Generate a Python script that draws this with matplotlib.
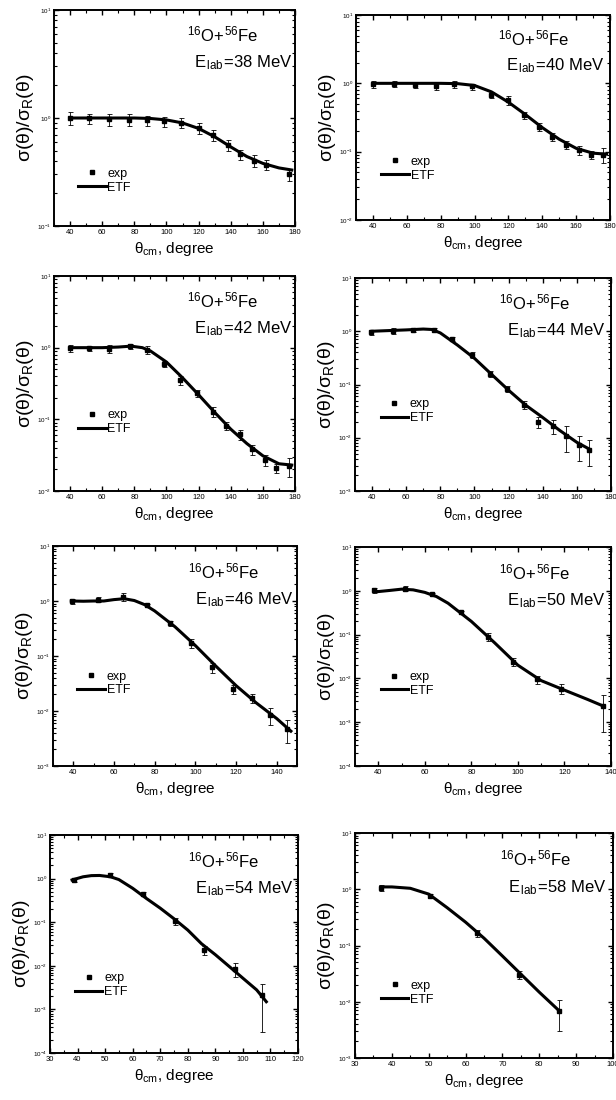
import numpy as np
import matplotlib
matplotlib.use("Agg")
import matplotlib.pyplot as plt
from matplotlib.lines import Line2D
from matplotlib.ticker import MultipleLocator, LogLocator, NullFormatter

plt.rcParams['font.family'] = ['Liberation Sans', 'DejaVu Sans']
plt.rcParams['mathtext.fontset'] = 'custom'
plt.rcParams['mathtext.rm'] = 'Liberation Sans'
plt.rcParams['mathtext.it'] = 'Liberation Sans:italic'
plt.rcParams['mathtext.bf'] = 'Liberation Sans:bold'

# ---- data ----
energies = [38, 40, 42, 44, 46, 50, 54, 58]

# 38 MeV
theta_38 = [40, 52, 64.5, 76.5, 88, 98.5, 109, 120, 129, 138, 146, 154.5, 162, 176.5]
ratio_38 = [1.0, 0.99, 0.97, 0.96, 0.95, 0.93, 0.9, 0.80, 0.69, 0.56, 0.46, 0.40, 0.37, 0.30]
err_38 = [0.13, 0.11, 0.12, 0.12, 0.1, 0.1, 0.1, 0.09, 0.08, 0.07, 0.05, 0.05, 0.04, 0.04]
etf_th_38 = [40, 50, 60, 70, 80, 90, 100, 110, 120, 130, 140, 150, 160, 170, 178]
etf_38 = [1.0, 1.0, 1.0, 1.0, 1.0, 0.99, 0.96, 0.9, 0.8, 0.67, 0.54, 0.44, 0.38, 0.345, 0.33]

# 40 MeV
theta_40 = [40, 52.5, 65, 77, 88, 98.5, 109.5, 119.5, 129.5, 138, 146, 154, 161.5, 169, 176]
ratio_40 = [0.98, 0.98, 0.96, 0.9, 0.98, 0.9, 0.68, 0.57, 0.34, 0.23, 0.165, 0.125, 0.105, 0.09, 0.09]
err_40 = [0.12, 0.1, 0.1, 0.1, 0.12, 0.09, 0.07, 0.08, 0.04, 0.03, 0.02, 0.017, 0.015, 0.013, 0.022]
etf_th_40 = [40, 50, 60, 70, 80, 90, 100, 110, 120, 130, 140, 150, 160, 170, 178]
etf_40 = [1.0, 1.0, 1.0, 1.0, 1.0, 0.99, 0.93, 0.75, 0.53, 0.35, 0.225, 0.152, 0.112, 0.095, 0.092]

# 42 MeV
theta_42 = [40, 52, 64.5, 77, 88, 98.5, 108.5, 119, 129, 137, 145.5, 153.5, 161.5, 168, 176]
ratio_42 = [0.98, 0.98, 0.96, 1.05, 0.93, 0.6, 0.35, 0.23, 0.128, 0.082, 0.062, 0.038, 0.027, 0.021, 0.022]
err_42 = [0.12, 0.08, 0.12, 0.09, 0.12, 0.06, 0.05, 0.025, 0.02, 0.01, 0.01, 0.006, 0.005, 0.003, 0.0065]
etf_th_42 = [40, 50, 60, 70, 78, 85, 90, 100, 110, 120, 130, 140, 150, 160, 170, 178]
etf_42 = [1.0, 1.0, 1.0, 1.02, 1.05, 1.0, 0.9, 0.63, 0.38, 0.22, 0.125, 0.073, 0.046, 0.031, 0.024, 0.023]

# 44 MeV
theta_44 = [39.5, 52.5, 64, 76.5, 87, 98.5, 109, 119, 129, 137.5, 146, 153.5, 161, 167]
ratio_44 = [0.96, 1.02, 1.05, 1.07, 0.72, 0.36, 0.157, 0.082, 0.041, 0.02, 0.0165, 0.011, 0.0073, 0.006]
err_44 = [0.1, 0.12, 0.1, 0.1, 0.07, 0.04, 0.02, 0.01, 0.007, 0.005, 0.0047, 0.0055, 0.0037, 0.003]
etf_th_44 = [40, 50, 60, 70, 75, 80, 90, 100, 110, 120, 130, 140, 150, 160, 167]
etf_44 = [1.0, 1.03, 1.06, 1.1, 1.08, 0.93, 0.55, 0.31, 0.155, 0.078, 0.041, 0.024, 0.0137, 0.0082, 0.0062]

# 46 MeV
theta_46 = [39.2, 52, 64.3, 76.2, 87.4, 97.9, 108.3, 118.5, 128, 136.7, 145]
ratio_46 = [1.0, 1.06, 1.18, 0.83, 0.39, 0.17, 0.062, 0.025, 0.017, 0.0085, 0.0047]
err_46 = [0.1, 0.1, 0.2, 0.06, 0.04, 0.03, 0.012, 0.005, 0.003, 0.003, 0.0021]
etf_th_46 = [39, 45, 50, 55, 60, 65, 70, 75, 80, 90, 100, 110, 120, 130, 140, 147]
etf_46 = [1.0, 0.99, 1.0, 1.0, 1.06, 1.1, 1.02, 0.86, 0.66, 0.34, 0.155, 0.066, 0.029, 0.014, 0.0073, 0.0043]

# 50 MeV
theta_50 = [38, 51.5, 63, 75.5, 87, 98, 108, 118.5, 136.5]
ratio_50 = [1.02, 1.12, 0.84, 0.32, 0.09, 0.024, 0.0095, 0.0058, 0.0024]
err_50 = [0.15, 0.15, 0.06, 0.03, 0.02, 0.005, 0.002, 0.0015, 0.0018]
etf_th_50 = [38, 40, 45, 50, 55, 60, 65, 70, 80, 90, 100, 110, 120, 130, 137]
etf_50 = [0.98, 0.96, 1.02, 1.09, 1.05, 0.92, 0.74, 0.52, 0.2, 0.065, 0.02, 0.0089, 0.0054, 0.0033, 0.0023]

# 54 MeV
theta_54 = [38.7, 51.8, 63.7, 75.4, 85.9, 97.2, 107]
ratio_54 = [0.92, 1.19, 0.44, 0.106, 0.023, 0.0085, 0.0021]
err_54 = [0.08, 0.12, 0.04, 0.02, 0.005, 0.003, 0.0018]
etf_th_54 = [38, 42, 45, 48, 52, 55, 60, 65, 70, 75, 80, 85, 90, 95, 100, 105, 108.5]
etf_54 = [0.93, 1.1, 1.17, 1.18, 1.1, 0.95, 0.6, 0.35, 0.21, 0.12, 0.066, 0.032, 0.018, 0.0097, 0.0052, 0.0028, 0.0015]

# 58 MeV
theta_58 = [37, 50.3, 63, 74.5, 85.3]
ratio_58 = [1.05, 0.77, 0.165, 0.03, 0.0069]
err_58 = [0.12, 0.07, 0.025, 0.005, 0.0039]
etf_th_58 = [37, 40, 45, 50, 55, 60, 65, 70, 75, 80, 85.5]
etf_58 = [1.1, 1.1, 1.04, 0.82, 0.47, 0.26, 0.135, 0.065, 0.031, 0.0148, 0.0068]

exp_theta = [theta_38, theta_40, theta_42, theta_44, theta_46, theta_50, theta_54, theta_58]
exp_ratio = [ratio_38, ratio_40, ratio_42, ratio_44, ratio_46, ratio_50, ratio_54, ratio_58]
exp_err = [err_38, err_40, err_42, err_44, err_46, err_50, err_54, err_58]
etf_theta = [etf_th_38, etf_th_40, etf_th_42, etf_th_44, etf_th_46, etf_th_50, etf_th_54, etf_th_58]
etf_ratio = [etf_38, etf_40, etf_42, etf_44, etf_46, etf_50, etf_54, etf_58]

ylims = [(1e-1, 1e1), (1e-2, 1e1), (1e-2, 1e1), (1e-3, 1e1),
         (1e-3, 1e1), (1e-4, 1e1), (1e-4, 1e1), (1e-3, 1e1)]
xlims = [(30, 180), (30, 180), (30, 180), (30, 180),
         (30, 150), (30, 140), (30, 120), (30, 100)]
legend_y = [0.21, 0.25, 0.32, 0.375, 0.375, 0.375, 0.31, 0.29]

# axes boxes in pixels (left, top, right, bottom)
boxes = [(54, 10, 295, 226), (356, 15, 610, 220),
         (54, 276, 295, 491), (355, 278, 611, 491),
         (53, 546, 297, 766), (355, 547, 611, 766),
         (50, 835, 298, 1053), (355, 833, 613, 1058)]

W, H = 616, 1100
fig = plt.figure(figsize=(W / 100, H / 100), dpi=100)

for i, E in enumerate(energies):
    l, t, r, b = boxes[i]
    ax = fig.add_axes([l / W, 1 - b / H, (r - l) / W, (b - t) / H])

    ax.errorbar(exp_theta[i], exp_ratio[i], yerr=exp_err[i], fmt='s', color='k',
                ms=2.2, elinewidth=0.6, capsize=1.8, capthick=0.6, zorder=3)
    ax.plot(etf_theta[i], etf_ratio[i], '-', color='k', lw=2.2, zorder=2)

    ax.set_yscale('log')
    ax.set_ylim(*ylims[i])
    ax.set_xlim(*xlims[i])
    if i < 6:
        ax.set_xticks(np.arange(40, xlims[i][1] + 1, 20))
        ax.xaxis.set_minor_locator(MultipleLocator(10))
    else:
        ax.xaxis.set_major_locator(MultipleLocator(10))
        ax.xaxis.set_minor_locator(MultipleLocator(5))
    ax.yaxis.set_major_locator(LogLocator(base=10, numticks=10))
    ax.yaxis.set_minor_locator(LogLocator(base=10, subs=np.arange(2, 10), numticks=10))
    ax.yaxis.set_minor_formatter(NullFormatter())

    ax.tick_params(which='both', direction='in', top=True, right=True)
    ax.tick_params(which='major', length=3.5, width=1.0, labelsize=5.5, pad=2)
    ax.tick_params(which='minor', length=2, width=0.8)
    ax.tick_params(axis='y', which='major', labelsize=4.5)
    for s in ax.spines.values():
        s.set_linewidth(1.4)

    ax.set_xlabel(r'$\mathrm{\theta_{cm}}$, degree', fontsize=11, labelpad=3)
    ax.set_ylabel(r'$\mathrm{\sigma(\theta)/\sigma_R(\theta)}$', fontsize=14, labelpad=1)

    ax.text(0.70, 0.885, r'$\mathrm{^{16}O\!+\!^{56}Fe}$', transform=ax.transAxes,
            ha='center', va='center', fontsize=12)
    ax.text(0.785, 0.755, r'$\mathrm{E_{\,lab}\!=\!%d\ MeV}$' % E, transform=ax.transAxes,
            ha='center', va='center', fontsize=12)

    handles = [Line2D([], [], ls='none', marker='s', ms=2.2, color='k'),
               Line2D([], [], ls='-', lw=2.2, color='k')]
    ax.legend(handles, ['exp', 'ETF'], loc='center left', bbox_to_anchor=(0.10, legend_y[i]),
              frameon=False, fontsize=9, handlelength=2.2, handletextpad=0.15,
              labelspacing=0.15, borderpad=0, borderaxespad=0)

fig.savefig('out.png', dpi=100)
